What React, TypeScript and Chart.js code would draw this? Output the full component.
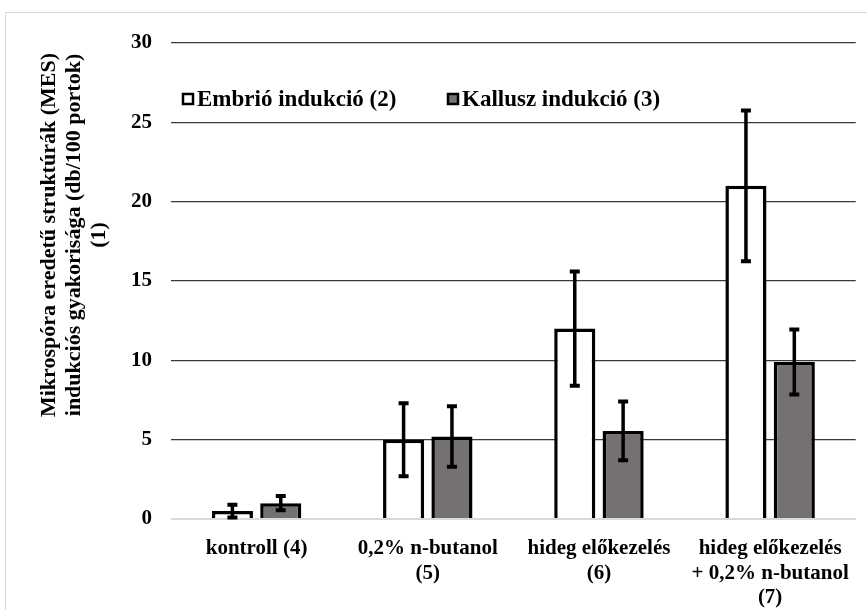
import React, { useEffect, useRef } from "react";
import { Chart, registerables } from "chart.js";

Chart.register(...registerables);

const categories: (string | string[])[] = [
  "kontroll (4)",
  ["0,2% n-butanol", "(5)"],
  ["hideg előkezelés", "(6)"],
  ["hideg előkezelés", "+ 0,2% n-butanol", "(7)"],
];
const seriesNames = ["Embrió indukció (2)", "Kallusz indukció (3)"];
const embrioValues = [0.5, 5.0, 12.0, 21.0];
const embrioErrors = [0.4, 2.3, 3.6, 4.75];
const kalluszValues = [1.0, 5.2, 5.55, 9.9];
const kalluszErrors = [0.45, 1.9, 1.85, 2.05];
const yTitleLines = [
  "Mikrospóra eredetű struktúrák (MES)",
  "indukciós gyakorisága (db/100 portok)",
  "(1)",
];
const yTicks = [0, 5, 10, 15, 20, 25, 30];

const FONT = "'Liberation Serif', 'Times New Roman', serif";
const GRAY = "#767171";

const errorsByDataset = [embrioErrors, kalluszErrors];

const errorBarPlugin = {
  id: "errorBars",
  afterDatasetsDraw(chart: any) {
    const ctx = chart.ctx;
    const yScale = chart.scales.y;
    chart.data.datasets.forEach((ds: any, i: number) => {
      const meta = chart.getDatasetMeta(i);
      const errs = errorsByDataset[i];
      meta.data.forEach((bar: any, j: number) => {
        const v = ds.data[j];
        const e = errs[j];
        const x = bar.x;
        const yHi = yScale.getPixelForValue(v + e);
        const yLo = yScale.getPixelForValue(v - e);
        ctx.save();
        ctx.strokeStyle = "#000";
        ctx.lineWidth = 3.5;
        ctx.beginPath();
        ctx.moveTo(x, yHi);
        ctx.lineTo(x, yLo);
        ctx.stroke();
        ctx.lineWidth = 4;
        ctx.beginPath();
        ctx.moveTo(x - 5, yHi);
        ctx.lineTo(x + 5, yHi);
        ctx.moveTo(x - 5, yLo);
        ctx.lineTo(x + 5, yLo);
        ctx.stroke();
        ctx.restore();
      });
    });
  },
};

const decorPlugin = {
  id: "decor",
  beforeDraw(chart: any) {
    const ctx = chart.ctx;
    ctx.save();
    ctx.fillStyle = "#fff";
    ctx.fillRect(0, 0, chart.width, chart.height);
    ctx.strokeStyle = "#d9d9d9";
    ctx.lineWidth = 1;
    ctx.strokeRect(5.5, 12.5, chart.width + 20, chart.height + 20);
    ctx.restore();
  },
  afterDraw(chart: any) {
    const ctx = chart.ctx;
    const area = chart.chartArea;
    ctx.save();
    // y-axis title (rotated, three lines)
    ctx.fillStyle = "#000";
    ctx.font = `bold 22px ${FONT}`;
    ctx.textAlign = "center";
    ctx.textBaseline = "middle";
    const cy = 235;
    yTitleLines.forEach((line, k) => {
      ctx.save();
      ctx.translate(49 + k * 25, cy);
      ctx.rotate(-Math.PI / 2);
      ctx.fillText(line, 0, 0);
      ctx.restore();
    });
    // legend
    ctx.font = `bold 23px ${FONT}`;
    ctx.textAlign = "left";
    const ly = 99;
    const fills = ["#ffffff", GRAY];
    const xs = [area.left + 12, area.left + 277];
    seriesNames.forEach((name, k) => {
      const x = xs[k];
      ctx.fillStyle = fills[k];
      ctx.fillRect(x, ly - 5, 10, 10);
      ctx.strokeStyle = "#000";
      ctx.lineWidth = 2.5;
      ctx.strokeRect(x, ly - 5, 10, 10);
      ctx.fillStyle = "#000";
      ctx.fillText(name, x + 14, ly + 1);
    });
    ctx.restore();
  },
};

export default function App() {
  const canvasRef = useRef<HTMLCanvasElement | null>(null);

  useEffect(() => {
    document.body.style.margin = "0";
    const canvas = canvasRef.current;
    if (!canvas) return;
    const chart = new Chart(canvas, {
      type: "bar",
      data: {
        labels: categories,
        datasets: [
          {
            label: seriesNames[0],
            data: embrioValues,
            backgroundColor: "#ffffff",
            borderColor: "#000000",
            borderWidth: 3.5,
            categoryPercentage: 0.565,
            barPercentage: 0.85,
          },
          {
            label: seriesNames[1],
            data: kalluszValues,
            backgroundColor: GRAY,
            borderColor: "#000000",
            borderWidth: 3.5,
            categoryPercentage: 0.565,
            barPercentage: 0.85,
          },
        ],
      },
      options: {
        responsive: false,
        animation: false,
        devicePixelRatio: 1,
        layout: { padding: { left: 0, right: 2, top: 43, bottom: 0 } },
        plugins: {
          legend: { display: false },
          tooltip: { enabled: false },
          title: { display: false },
        },
        scales: {
          x: {
            grid: { display: false, drawTicks: false },
            border: { display: false },
            ticks: {
              color: "#000",
              font: { family: FONT, size: 21, weight: "bold", lineHeight: 1.15 },
              padding: 18,
              maxRotation: 0,
              autoSkip: false,
            },
            afterFit(scale: any) {
              scale.height = 91;
            },
          },
          y: {
            min: 0,
            max: 30,
            afterBuildTicks(scale: any) {
              scale.ticks = yTicks.map((v) => ({ value: v }));
            },
            grid: {
              drawTicks: false,
              color: (c: any) => (c.tick && c.tick.value === 0 ? "#d9d9d9" : "#3a3a3a"),
              lineWidth: (c: any) => (c.tick && c.tick.value === 0 ? 2 : 1.3),
            },
            border: { display: false },
            ticks: {
              color: "#000",
              font: { family: FONT, size: 21, weight: "bold" },
              padding: 19,
            },
            afterFit(scale: any) {
              scale.width = 171;
            },
          },
        },
      },
      plugins: [decorPlugin, errorBarPlugin],
    });
    return () => chart.destroy();
  }, []);

  return (
    <canvas
      ref={canvasRef}
      width={867}
      height={610}
      style={{ display: "block", width: 867, height: 610 }}
    />
  );
}
